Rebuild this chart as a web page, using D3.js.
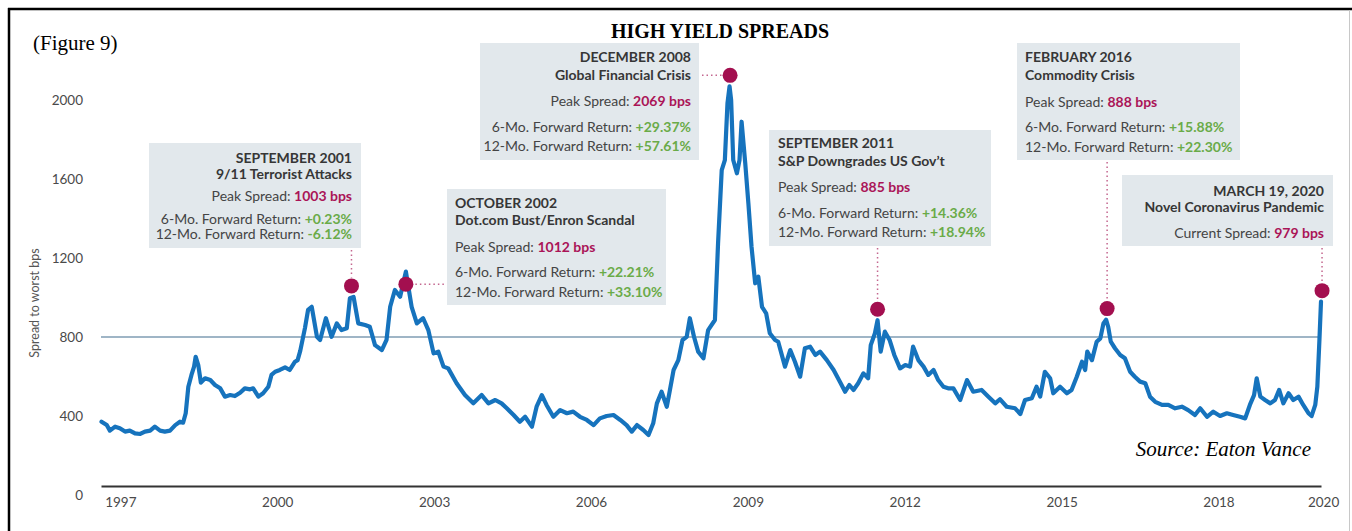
<!DOCTYPE html>
<html>
<head>
<meta charset="utf-8">
<script src="https://cdn.jsdelivr.net/npm/d3@7/dist/d3.min.js"></script>
<style>
  html, body { margin: 0; padding: 0; background: #fff; }
  svg { display: block; }
</style>
</head>
<body>
<svg id="chart" width="1352" height="531"></svg>
<script>
// High yield spread-to-worst history (bps), by decimal year
const years = [1996.64,1996.74,1996.80,1996.90,1996.99,1997.09,1997.18,1997.28,1997.38,1997.47,1997.57,1997.66,1997.76,1997.85,1997.95,1998.05,1998.14,1998.20,1998.25,1998.30,1998.36,1998.41,1998.44,1998.49,1998.54,1998.62,1998.72,1998.81,1998.91,1999.00,1999.10,1999.19,1999.29,1999.38,1999.48,1999.54,1999.64,1999.73,1999.83,1999.89,1999.96,2000.05,2000.15,2000.24,2000.34,2000.39,2000.44,2000.53,2000.59,2000.66,2000.76,2000.82,2000.93,2001.04,2001.14,2001.23,2001.33,2001.39,2001.46,2001.55,2001.68,2001.77,2001.87,2002.00,2002.09,2002.16,2002.25,2002.35,2002.46,2002.57,2002.67,2002.79,2002.89,2002.99,2003.08,2003.18,2003.27,2003.43,2003.59,2003.75,2003.91,2004.04,2004.17,2004.29,2004.39,2004.52,2004.64,2004.74,2004.87,2004.96,2005.06,2005.15,2005.28,2005.41,2005.54,2005.66,2005.79,2005.92,2006.05,2006.17,2006.30,2006.43,2006.56,2006.68,2006.78,2006.88,2007.00,2007.10,2007.19,2007.26,2007.35,2007.45,2007.51,2007.58,2007.67,2007.75,2007.83,2007.89,2007.97,2008.05,2008.15,2008.24,2008.37,2008.43,2008.50,2008.56,2008.61,2008.65,2008.68,2008.72,2008.79,2008.84,2008.88,2008.95,2009.01,2009.07,2009.14,2009.20,2009.27,2009.35,2009.42,2009.52,2009.58,2009.71,2009.81,2009.90,2010.00,2010.09,2010.19,2010.29,2010.38,2010.51,2010.64,2010.76,2010.86,2010.94,2011.02,2011.11,2011.21,2011.30,2011.35,2011.43,2011.48,2011.54,2011.62,2011.71,2011.80,2011.91,2012.01,2012.10,2012.16,2012.26,2012.36,2012.45,2012.55,2012.64,2012.74,2012.83,2012.93,2013.06,2013.19,2013.31,2013.47,2013.60,2013.73,2013.82,2013.95,2014.11,2014.21,2014.30,2014.43,2014.52,2014.59,2014.68,2014.78,2014.84,2014.97,2015.10,2015.19,2015.29,2015.39,2015.45,2015.49,2015.58,2015.67,2015.74,2015.80,2015.85,2015.89,2015.94,2016.02,2016.12,2016.21,2016.31,2016.40,2016.50,2016.60,2016.69,2016.79,2016.92,2017.04,2017.17,2017.30,2017.42,2017.55,2017.65,2017.78,2017.90,2018.03,2018.16,2018.28,2018.41,2018.51,2018.60,2018.68,2018.73,2018.80,2018.89,2018.99,2019.08,2019.16,2019.24,2019.34,2019.43,2019.53,2019.62,2019.72,2019.78,2019.85,2019.89,2019.93,2019.96];

const spreads = [371,354,326,346,338,321,326,312,309,321,
  326,346,326,321,326,354,371,366,414,548,
  608,650,700,658,569,591,582,557,540,498,
  506,501,518,540,535,540,498,515,548,608,
  624,633,646,633,675,683,730,845,937,953,
  801,785,895,801,869,835,844,996,1003,869,
  861,852,759,734,785,953,1038,1004,1131,953,
  869,895,835,717,726,650,641,566,506,464,
  506,464,481,464,439,405,371,396,346,447,
  506,456,396,430,414,422,396,380,354,388,
  400,405,380,354,321,354,329,304,363,464,
  523,447,532,633,683,785,801,895,801,726,
  692,835,886,1274,1645,1696,1983,2069,2000,1696,
  1629,1696,1890,1679,1477,1257,1072,1105,953,920,
  819,785,776,650,734,675,599,743,751,709,
  726,683,633,574,523,557,532,566,616,591,
  759,819,885,726,827,785,709,641,658,650,
  751,683,650,608,633,582,548,540,540,481,
  582,523,532,498,464,485,447,439,410,481,
  490,548,498,624,591,515,548,515,532,599,
  675,633,726,683,776,793,869,888,852,776,
  743,709,692,624,599,574,566,498,472,456,
  456,439,447,430,405,439,396,422,400,414,
  405,396,388,456,506,591,498,481,464,481,
  532,464,515,481,498,456,414,400,456,548,
  785,979];

// Axis ticks
const yTicks = [0, 400, 800, 1200, 1600, 2000];
const xTickYears = [1997, 2000, 2003, 2006, 2009, 2012, 2015, 2018, 2020];
const referenceLevel = 800;

// Stress events
const eventDates   = [2001.42, 2002.46, 2008.66, 2011.48, 2015.87, 2019.98];
const eventSpreads = [1003, 1012, 2069, 885, 888, 979];
const eventMonths  = ["SEPTEMBER 2001", "OCTOBER 2002", "DECEMBER 2008", "SEPTEMBER 2011", "FEBRUARY 2016", "MARCH 19, 2020"];
const eventNames   = ["9/11 Terrorist Attacks", "Dot.com Bust/Enron Scandal", "Global Financial Crisis", "S&P Downgrades US Gov\u2019t", "Commodity Crisis", "Novel Coronavirus Pandemic"];
const spreadKinds  = ["Peak Spread", "Peak Spread", "Peak Spread", "Peak Spread", "Peak Spread", "Current Spread"];
const sixMonthReturns    = ["+0.23%", "+22.21%", "+29.37%", "+14.36%", "+15.88%", null];
const twelveMonthReturns = ["-6.12%", "+33.10%", "+57.61%", "+18.94%", "+22.30%", null];

// Callout box geometry: rect, text anchor, text baselines, leader direction
const callouts = [
  { x: 149, y: 143, w: 212, h: 105, anchor: "end",   tx: 352,  lines: [163, 179, 201, 224, 239], leader: "up" },
  { x: 447, y: 189, w: 219, h: 116, anchor: "start", tx: 455,  lines: [208, 225, 252, 277, 297], leader: "right" },
  { x: 480, y: 43,  w: 219, h: 117, anchor: "end",   tx: 691,  lines: [62, 80, 106, 132, 151],  leader: "left" },
  { x: 769, y: 130, w: 222, h: 116, anchor: "start", tx: 778,  lines: [148, 166, 192, 218, 237], leader: "up" },
  { x: 1017, y: 43, w: 223, h: 117, anchor: "start", tx: 1025, lines: [62, 80, 107, 132, 152],  leader: "up" },
  { x: 1122, y: 175, w: 211, h: 71, anchor: "end",   tx: 1324, lines: [196, 212, 238],          leader: "up" }
];

const svg = d3.select("#chart");
const W = 1352, H = 531;

const x = d3.scaleLinear().domain([1996.63, 2019.96]).range([101, 1321]);
const y = d3.scaleLinear().domain([0, 2000]).range([495, 100]);

const sansFont = "Lato, 'Open Sans', sans-serif";
const serifFont = "'Liberation Serif', 'Times New Roman', serif";
const textDark = "#363636";
const valueRed = "#aa1457";
const returnGreen = "#6aab48";
const dotColor = "#a30f4f";
const boxFill = "#e2e8ec";

svg.append("rect").attr("width", W).attr("height", H).attr("fill", "#fff");

// Frame
svg.append("line").attr("x1", 8).attr("x2", W).attr("y1", 9).attr("y2", 9)
  .attr("stroke", "#000").attr("stroke-width", 2.5);
svg.append("line").attr("x1", 9).attr("x2", 9).attr("y1", 8).attr("y2", H)
  .attr("stroke", "#000").attr("stroke-width", 2.5);
svg.append("line").attr("x1", 1349.5).attr("x2", 1349.5).attr("y1", 10).attr("y2", H)
  .attr("stroke", "#c8c8c8").attr("stroke-width", 1);

// Title and figure tag
svg.append("text").attr("x", 720).attr("y", 38).attr("text-anchor", "middle")
  .attr("font-family", serifFont).attr("font-weight", "bold").attr("font-size", 20)
  .attr("fill", "#000").text("HIGH YIELD SPREADS");
svg.append("text").attr("x", 33).attr("y", 50)
  .attr("font-family", serifFont).attr("font-size", 21)
  .attr("fill", "#000").text("(Figure 9)");

// Y axis labels
const yAxis = d3.axisLeft(y).tickValues(yTicks).tickSize(0).tickPadding(18).tickFormat(d3.format("d"));
const gy = svg.append("g").attr("transform", "translate(101,0)").call(yAxis);
gy.select(".domain").remove();
gy.selectAll("text").attr("font-family", sansFont).attr("font-size", 13.5).attr("fill", "#4a4a4a");

svg.append("text")
  .attr("transform", "translate(39,303) rotate(-90)")
  .attr("text-anchor", "middle")
  .attr("font-family", sansFont).attr("font-size", 12.5).attr("fill", "#555")
  .text("Spread to worst bps");

// X axis
const xAxis = d3.axisBottom(x).tickValues(xTickYears).tickSize(0).tickSizeOuter(0).tickPadding(11).tickFormat(d3.format("d"));
const gx = svg.append("g").attr("transform", "translate(0,486)").call(xAxis);
gx.select(".domain").attr("stroke", "#333").attr("stroke-width", 2);
gx.selectAll("text").attr("font-family", sansFont).attr("font-size", 13.5).attr("fill", "#4a4a4a");

// 800 bps reference line
svg.append("line")
  .attr("x1", x.range()[0]).attr("x2", x.range()[1] - 2)
  .attr("y1", y(referenceLevel)).attr("y2", y(referenceLevel))
  .attr("stroke", "#7f9db3").attr("stroke-width", 1.3);

// Spread series
const series = d3.range(Math.min(years.length, spreads.length)).map(i => [years[i], spreads[i]]);
const line = d3.line().x(d => x(d[0])).y(d => y(d[1]));
svg.append("path").datum(series)
  .attr("d", line)
  .attr("fill", "none")
  .attr("stroke", "#1673bd")
  .attr("stroke-width", 4.2)
  .attr("stroke-linejoin", "round")
  .attr("stroke-linecap", "round");

// Callouts
const dotR = 7.5;
const dotLift = 11;
callouts.forEach((c, i) => {
  const cx = x(eventDates[i]);
  const cy = y(eventSpreads[i]) - dotLift;

  // dotted leader
  let lx1, ly1, lx2, ly2;
  if (c.leader === "up") { lx1 = cx; lx2 = cx; ly1 = c.y + c.h + 2; ly2 = cy - dotR - 1; }
  else if (c.leader === "right") { lx1 = cx + dotR + 2; lx2 = c.x - 1; ly1 = cy; ly2 = cy; }
  else { lx1 = c.x + c.w + 3; lx2 = cx - dotR - 1; ly1 = cy; ly2 = cy; }
  svg.append("line").attr("x1", lx1).attr("y1", ly1).attr("x2", lx2).attr("y2", ly2)
    .attr("stroke", "#c4678f").attr("stroke-width", 1.5).attr("stroke-dasharray", "1.5,3");

  svg.append("circle").attr("cx", cx).attr("cy", cy).attr("r", dotR).attr("fill", dotColor);

  svg.append("rect").attr("x", c.x).attr("y", c.y).attr("width", c.w).attr("height", c.h)
    .attr("fill", boxFill);

  const g = svg.append("g").attr("font-family", sansFont).attr("font-size", 14)
    .attr("text-anchor", c.anchor);

  g.append("text").attr("x", c.tx).attr("y", c.lines[0])
    .attr("font-weight", "bold").attr("fill", textDark).text(eventMonths[i]);
  g.append("text").attr("x", c.tx).attr("y", c.lines[1])
    .attr("font-weight", "bold").attr("fill", textDark).text(eventNames[i]);

  const sp = g.append("text").attr("x", c.tx).attr("y", c.lines[2]).attr("fill", "#444");
  sp.append("tspan").text(spreadKinds[i] + ": ");
  sp.append("tspan").attr("font-weight", "bold").attr("fill", valueRed).text(eventSpreads[i] + " bps");

  if (sixMonthReturns[i] !== null) {
    const r6 = g.append("text").attr("x", c.tx).attr("y", c.lines[3]).attr("fill", "#444");
    r6.append("tspan").text("6-Mo. Forward Return: ");
    r6.append("tspan").attr("font-weight", "bold").attr("fill", returnGreen).text(sixMonthReturns[i]);
    const r12 = g.append("text").attr("x", c.tx).attr("y", c.lines[4]).attr("fill", "#444");
    r12.append("tspan").text("12-Mo. Forward Return: ");
    r12.append("tspan").attr("font-weight", "bold").attr("fill", returnGreen).text(twelveMonthReturns[i]);
  }
});

// Source note
svg.append("text").attr("x", 1311).attr("y", 456).attr("text-anchor", "end")
  .attr("font-family", serifFont).attr("font-style", "italic").attr("font-size", 21)
  .attr("fill", "#000").text("Source: Eaton Vance");
</script>
</body>
</html>
